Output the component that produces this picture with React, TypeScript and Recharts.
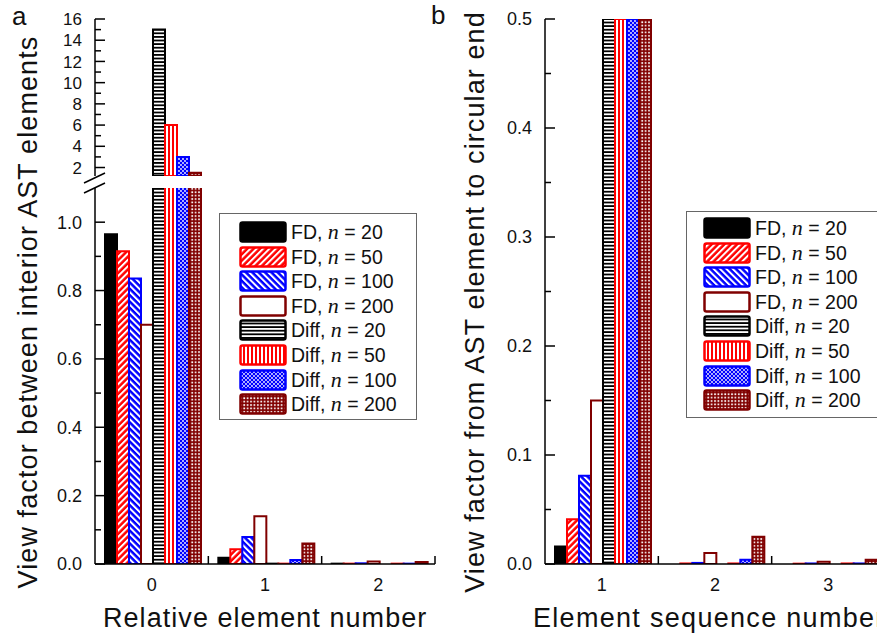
import { BarChart, Bar, XAxis, YAxis, Rectangle } from 'recharts';

// categories
const CATS_A = ['0', '1', '2'];
const CATS_B = ['1', '2', '3'];

// panel a: view factor between interior AST elements
const FD20_A = [0.965, 0.018, 0.001];
const FD50_A = [0.915, 0.043, 0.001];
const FD100_A = [0.835, 0.079, 0.002];
const FD200_A = [0.7, 0.14, 0.007];
const DIFF20_A = [15, 0.001, 0];
const DIFF50_A = [6, 0.001, 0.001];
const DIFF100_A = [3.0, 0.012, 0.001];
const DIFF200_A = [1.5, 0.06, 0.006];

// panel b: view factor from AST element to circular end
const FD20_B = [0.016, 0, 0];
const FD50_B = [0.041, 0.0005, 0.0003];
const FD100_B = [0.081, 0.001, 0.0005];
const FD200_B = [0.15, 0.01, 0.002];
const DIFF20_B = [0.5, 0, 0];
const DIFF50_B = [0.5, 0.0005, 0.0005];
const DIFF100_B = [0.5, 0.004, 0.0005];
const DIFF200_B = [0.5, 0.025, 0.004];

// y ticks
const UPPER_TICKS_A = [2, 3, 4, 5, 6, 7, 8, 9, 10, 11, 12, 13, 14, 15, 16];
const UPPER_MAJOR_A = [2, 4, 6, 8, 10, 12, 14, 16];
const LOWER_TICKS_A = [0, 0.1, 0.2, 0.3, 0.4, 0.5, 0.6, 0.7, 0.8, 0.9, 1.0];
const LOWER_MAJOR_A = [0, 0.2, 0.4, 0.6, 0.8, 1.0];
const TICKS_B = [0, 0.05, 0.1, 0.15, 0.2, 0.25, 0.3, 0.35, 0.4, 0.45, 0.5];
const MAJOR_B = [0, 0.1, 0.2, 0.3, 0.4, 0.5];

const UPPER_MIN_A = 1.2;

const SERIES = [
  { key: 'fd20', method: 'FD', n: 20, color: '#000000', fill: 'url(#pFd20)' },
  { key: 'fd50', method: 'FD', n: 50, color: '#ff0000', fill: 'url(#pFd50)' },
  { key: 'fd100', method: 'FD', n: 100, color: '#0000ff', fill: 'url(#pFd100)' },
  { key: 'fd200', method: 'FD', n: 200, color: '#800000', fill: '#ffffff' },
  { key: 'diff20', method: 'Diff', n: 20, color: '#000000', fill: 'url(#pDiff20)' },
  { key: 'diff50', method: 'Diff', n: 50, color: '#ff0000', fill: 'url(#pDiff50)' },
  { key: 'diff100', method: 'Diff', n: 100, color: '#0000ff', fill: 'url(#pDiff100)' },
  { key: 'diff200', method: 'Diff', n: 200, color: '#800000', fill: 'url(#pDiff200)' },
];

const dataA = CATS_A.map((cat, i) => ({
  cat,
  fd20: FD20_A[i], fd50: FD50_A[i], fd100: FD100_A[i], fd200: FD200_A[i],
  diff20: DIFF20_A[i], diff50: DIFF50_A[i], diff100: DIFF100_A[i], diff200: DIFF200_A[i],
}));

const dataB = CATS_B.map((cat, i) => ({
  cat,
  fd20: FD20_B[i], fd50: FD50_B[i], fd100: FD100_B[i], fd200: FD200_B[i],
  diff20: DIFF20_B[i], diff50: DIFF50_B[i], diff100: DIFF100_B[i], diff200: DIFF200_B[i],
}));

const FONT = '"Liberation Sans", Arial, sans-serif';
const AXIS_X = 95; // y axis position inside each chart (left margin 0 + axis width)
const PLOT_W = 340;
const BAND = PLOT_W / 3;

function makeYTick(majors: number[], decimals: number, fontSize: number) {
  return (props: any) => {
    const { y, payload } = props;
    const v = Number(payload.value);
    const major = majors.some((m) => Math.abs(m - v) < 1e-9);
    return (
      <g>
        <line x1={AXIS_X} x2={AXIS_X + (major ? 10 : 6)} y1={y} y2={y} stroke="#000" strokeWidth={1.5} />
        {major && (
          <text x={AXIS_X - 13} y={y} dy="0.36em" textAnchor="end" fontSize={fontSize} fontFamily={FONT} fill="#111">
            {v.toFixed(decimals)}
          </text>
        )}
      </g>
    );
  };
}

function makeXTick(axisY: number) {
  return (props: any) => {
    const { x, payload } = props;
    return (
      <g>
        <line x1={x + BAND / 2} x2={x + BAND / 2} y1={axisY} y2={axisY - 8} stroke="#000" strokeWidth={1.5} />
        <text x={x} y={axisY + 21} dy="0.36em" textAnchor="middle" fontSize={18} fontFamily={FONT} fill="#111">
          {payload.value}
        </text>
      </g>
    );
  };
}

// minValue: bars whose value sits below the visible segment are skipped (broken axis)
function renderBars(minValue?: number) {
  return SERIES.map((s) => (
    <Bar
      key={s.key}
      dataKey={s.key}
      fill={s.fill}
      stroke={s.color}
      strokeWidth={2}
      isAnimationActive={false}
      shape={(p: any) =>
        minValue !== undefined && Number(p.payload[s.key]) <= minValue ? <g /> : <Rectangle {...p} />
      }
    />
  ));
}

function Patterns() {
  return (
    <svg width={0} height={0} style={{ position: 'absolute' }}>
      <defs>
        <pattern id="pFd20" width={4} height={4} patternUnits="userSpaceOnUse">
          <rect width={4} height={4} fill="#000" />
        </pattern>
        <pattern id="pFd50" width={4.5} height={4.5} patternUnits="userSpaceOnUse" patternTransform="rotate(45)">
          <rect width={4.5} height={4.5} fill="#ff0000" />
          <rect width={2} height={4.5} fill="#fff" />
        </pattern>
        <pattern id="pFd100" width={4.5} height={4.5} patternUnits="userSpaceOnUse" patternTransform="rotate(-45)">
          <rect width={4.5} height={4.5} fill="#0000ff" />
          <rect width={2} height={4.5} fill="#fff" />
        </pattern>
        <pattern id="pDiff20" width={4} height={3.6} patternUnits="userSpaceOnUse">
          <rect width={4} height={3.6} fill="#fff" />
          <rect width={4} height={1.8} fill="#000" />
        </pattern>
        <pattern id="pDiff50" width={4} height={4} patternUnits="userSpaceOnUse">
          <rect width={4} height={4} fill="#fff" />
          <rect width={2} height={4} fill="#ff0000" />
        </pattern>
        <pattern id="pDiff100" width={4} height={4} patternUnits="userSpaceOnUse">
          <rect width={4} height={4} fill="#0000ff" />
          <circle cx={1} cy={1} r={0.9} fill="#fff" />
          <circle cx={3} cy={3} r={0.9} fill="#fff" />
        </pattern>
        <pattern id="pDiff200" width={3.4} height={3.4} patternUnits="userSpaceOnUse">
          <rect width={3.4} height={3.4} fill="#800000" />
          <rect x={1} y={1} width={1.7} height={1.7} fill="#fff" />
        </pattern>
      </defs>
    </svg>
  );
}

function LegendBox({ left, top, swatchX, firstY }: { left: number; top: number; swatchX: number; firstY: number }) {
  return (
    <div
      style={{
        position: 'absolute', left, top, width: 198, height: 207,
        border: '1px solid #666', background: '#fff', boxSizing: 'border-box',
      }}
    >
      {SERIES.map((s, i) => (
        <div
          key={s.key}
          style={{
            position: 'absolute', left: swatchX, top: firstY + i * 24.6 - 12, height: 24,
            display: 'flex', alignItems: 'center', whiteSpace: 'nowrap',
          }}
        >
          <svg width={48} height={22} style={{ display: 'block' }}>
            <rect x={1.5} y={1.5} width={45} height={19} rx={2} fill={s.fill} stroke={s.color} strokeWidth={2.5} />
          </svg>
          <span style={{ fontFamily: FONT, fontSize: 19.5, color: '#111', marginLeft: 4 }}>
            {s.method},{' '}
            <span style={{ fontFamily: '"Liberation Serif", serif', fontStyle: 'italic', fontSize: 22 }}>n</span>
            {' '}= {s.n}
          </span>
        </div>
      ))}
    </div>
  );
}

const textStyle = { position: 'absolute' as const, fontFamily: FONT, color: '#111', whiteSpace: 'nowrap' as const };

export default function App() {
  return (
    <div style={{ position: 'absolute', left: 0, top: 0, width: 877, height: 635, overflow: 'hidden', background: '#fff' }}>
      <Patterns />

      {/* panel a, upper segment of broken axis */}
      <div style={{ position: 'absolute', left: 0, top: 0 }}>
        <BarChart width={440} height={178} data={dataA} barCategoryGap={10} barGap={0}
          margin={{ top: 19, right: 5, bottom: 2, left: 0 }}>
          <XAxis dataKey="cat" hide />
          <YAxis
            type="number"
            domain={[UPPER_MIN_A, 16]}
            allowDataOverflow
            ticks={UPPER_TICKS_A}
            interval={0}
            width={AXIS_X}
            axisLine={{ stroke: '#000', strokeWidth: 1.5 }}
            tickLine={false}
            tick={makeYTick(UPPER_MAJOR_A, 0, 17)}
          />
          {renderBars(UPPER_MIN_A)}
        </BarChart>
      </div>

      {/* panel a, lower segment */}
      <div style={{ position: 'absolute', left: 0, top: 170 }}>
        <BarChart width={440} height={440} data={dataA} barCategoryGap={10} barGap={0}
          margin={{ top: 18, right: 5, bottom: 6, left: 0 }}>
          <XAxis
            dataKey="cat"
            height={40}
            axisLine={{ stroke: '#000', strokeWidth: 1.5 }}
            tickLine={false}
            tick={makeXTick(394)}
            interval={0}
          />
          <YAxis
            type="number"
            domain={[0, 1.1]}
            allowDataOverflow
            ticks={LOWER_TICKS_A}
            interval={0}
            width={AXIS_X}
            axisLine={{ stroke: '#000', strokeWidth: 1.5 }}
            tickLine={false}
            tick={makeYTick(LOWER_MAJOR_A, 1, 18)}
          />
          {renderBars()}
        </BarChart>
      </div>

      {/* axis break marks */}
      <svg width={120} height={210} style={{ position: 'absolute', left: 0, top: 0 }}>
        <line x1={84} y1={183} x2={105} y2={173} stroke="#000" strokeWidth={1.5} />
        <line x1={84} y1={193} x2={105} y2={183} stroke="#000" strokeWidth={1.5} />
      </svg>

      {/* panel b */}
      <div style={{ position: 'absolute', left: 450, top: 0 }}>
        <BarChart width={440} height={610} data={dataB} barCategoryGap={10} barGap={0}
          margin={{ top: 19, right: 5, bottom: 6, left: 0 }}>
          <XAxis
            dataKey="cat"
            height={40}
            axisLine={{ stroke: '#000', strokeWidth: 1.5 }}
            tickLine={false}
            tick={makeXTick(564)}
            interval={0}
          />
          <YAxis
            type="number"
            domain={[0, 0.5]}
            allowDataOverflow
            ticks={TICKS_B}
            interval={0}
            width={AXIS_X}
            axisLine={{ stroke: '#000', strokeWidth: 1.5 }}
            tickLine={false}
            tick={makeYTick(MAJOR_B, 1, 18)}
          />
          {renderBars()}
        </BarChart>
      </div>

      <LegendBox left={219} top={213} swatchX={19} firstY={18} />
      <LegendBox left={686} top={211} swatchX={16} firstY={16} />

      {/* titles */}
      <div style={{ ...textStyle, left: 12, top: 1, fontSize: 26, lineHeight: '30px' }}>a</div>
      <div style={{ ...textStyle, left: 431, top: 0, fontSize: 26, lineHeight: '30px' }}>b</div>
      <div style={{ ...textStyle, left: 103, top: 603, fontSize: 27, lineHeight: '30px', letterSpacing: 1.05 }}>
        Relative element number
      </div>
      <div style={{ ...textStyle, left: 533, top: 603, fontSize: 27, lineHeight: '30px', letterSpacing: 1.3 }}>
        Element sequence number
      </div>
      <div style={{
        ...textStyle, left: 28, top: 312, fontSize: 27, lineHeight: '30px', letterSpacing: 1.1,
        transform: 'translate(-50%, -50%) rotate(-90deg)',
      }}>
        View factor between interior AST elements
      </div>
      <div style={{
        ...textStyle, left: 475, top: 302, fontSize: 27, lineHeight: '30px', letterSpacing: 1.1,
        transform: 'translate(-50%, -50%) rotate(-90deg)',
      }}>
        View factor from AST element to circular end
      </div>
    </div>
  );
}
